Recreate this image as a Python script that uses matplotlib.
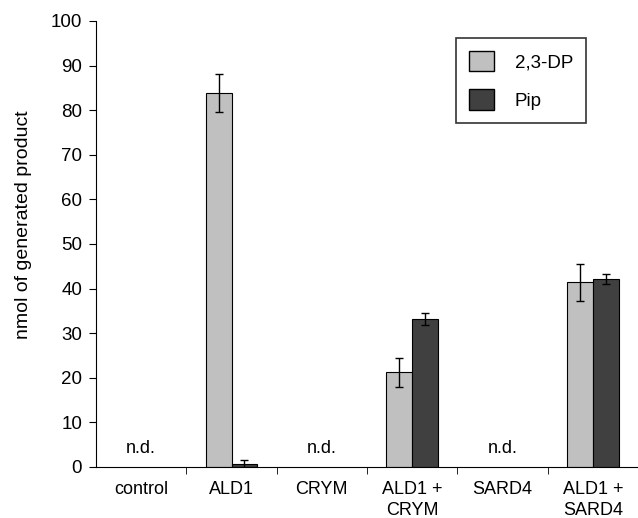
import numpy as np
from matplotlib import pyplot as plt

plt.rcParams['font.family'] = ['Liberation Sans', 'DejaVu Sans']

categories = ["control", "ALD1", "CRYM", "ALD1 +\nCRYM", "SARD4", "ALD1 +\nSARD4"]
dp_vals = [0, 83.8, 0, 21.2, 0, 41.4]
dp_err = [0, 4.3, 0, 3.3, 0, 4.2]
pip_vals = [0, 0.6, 0, 33.2, 0, 42.1]
pip_err = [0, 0.9, 0, 1.4, 0, 1.1]
not_detected = [True, False, True, False, True, False]

fig = plt.figure(figsize=(6.38, 5.18), dpi=100)
ax = fig.add_axes([0.1505, 0.0985, 0.8495, 0.861])

x = np.arange(len(categories))
w = 0.287
err_kw = dict(ecolor="black", elinewidth=1, capsize=3, capthick=1)

for i in range(len(categories)):
    if not_detected[i]:
        ax.text(x[i], 2.2, "n.d.", ha="center", va="bottom", fontsize=13)
        continue
    ax.bar(x[i] - w / 2, dp_vals[i], w, yerr=dp_err[i], color="#c0c0c0",
           edgecolor="black", linewidth=0.8, error_kw=err_kw)
    ax.bar(x[i] + w / 2, pip_vals[i], w, yerr=pip_err[i], color="#404040",
           edgecolor="black", linewidth=0.8, error_kw=err_kw)

# legend proxies
ax.bar([0], [0], 0, color="#c0c0c0", edgecolor="black", label="2,3-DP")
ax.bar([0], [0], 0, color="#404040", edgecolor="black", label="Pip")

ax.set_xlim(-0.5, len(categories) - 0.5)
ax.set_ylim(0, 100)
ax.set_yticks(np.arange(0, 101, 10))
ax.tick_params(axis="y", labelsize=13.5, length=5, direction="out", pad=5)

ax.set_xticks(x)
ax.set_xticklabels(categories, fontsize=13, linespacing=1.3)
ax.tick_params(axis="x", which="major", length=0, pad=10)
ax.set_xticks(np.arange(0.5, len(categories) - 0.5, 1), minor=True)
ax.tick_params(axis="x", which="minor", length=5, direction="out")

ax.set_ylabel("nmol of generated product", fontsize=14, va="center")
ax.yaxis.set_label_coords(-0.134, 0.544)
for s in ["top", "right"]:
    ax.spines[s].set_visible(False)

leg = ax.legend(loc="upper left", bbox_to_anchor=(0.664, 0.962), fontsize=13.5,
                frameon=True, fancybox=False, edgecolor="black",
                handlelength=1.35, handleheight=1.3, labelspacing=0.95,
                borderpad=0.7, handletextpad=1.1, borderaxespad=0)
leg.get_frame().set_linewidth(1.2)

fig.savefig("out.png", dpi=100)
